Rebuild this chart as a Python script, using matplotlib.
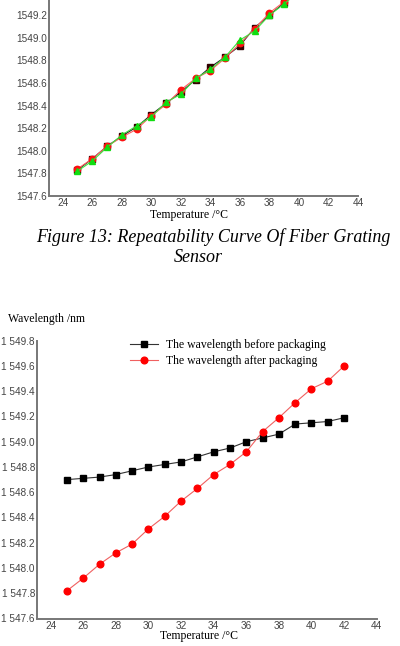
import matplotlib
matplotlib.use("Agg")
import matplotlib.pyplot as plt
from matplotlib.ticker import FuncFormatter

# data
temps = list(range(25, 43))

# top chart: three repeated runs
run_1 = [1547.83, 1547.93, 1548.04, 1548.13, 1548.21, 1548.32, 1548.42, 1548.52, 1548.63,
         1548.74, 1548.83, 1548.93, 1549.09, 1549.20, 1549.31, 1549.42, 1549.49, 1549.60]
run_2 = [1547.84, 1547.93, 1548.04, 1548.12, 1548.19, 1548.31, 1548.41, 1548.54, 1548.64,
         1548.71, 1548.82, 1548.95, 1549.08, 1549.22, 1549.32, 1549.42, 1549.49, 1549.61]
run_3 = [1547.82, 1547.91, 1548.03, 1548.14, 1548.22, 1548.30, 1548.43, 1548.50, 1548.64,
         1548.72, 1548.83, 1548.98, 1549.06, 1549.20, 1549.30, 1549.41, 1549.50, 1549.60]

# bottom chart: before / after packaging
before_pkg = [1548.70, 1548.71, 1548.72, 1548.74, 1548.77, 1548.80, 1548.82, 1548.84, 1548.88,
              1548.92, 1548.95, 1549.00, 1549.03, 1549.06, 1549.14, 1549.15, 1549.16, 1549.19]
after_pkg = [1547.82, 1547.92, 1548.03, 1548.12, 1548.19, 1548.31, 1548.41, 1548.53, 1548.63,
             1548.74, 1548.82, 1548.92, 1549.08, 1549.19, 1549.31, 1549.42, 1549.48, 1549.60]

x_ticks = [24, 26, 28, 30, 32, 34, 36, 38, 40, 42, 44]
y_ticks = [1547.6, 1547.8, 1548.0, 1548.2, 1548.4, 1548.6, 1548.8, 1549.0, 1549.2, 1549.4, 1549.6, 1549.8]
y_ticks_top = [v for v in y_ticks if v <= 1549.2]  # the rest is off the page

SERIF = "Liberation Serif"
SANS = "Liberation Sans"
AXIS_GRAY = "#777777"
TICK_GRAY = "#444444"

W, H = 400, 646
fig = plt.figure(figsize=(W / 100, H / 100), dpi=100)


def px_axes(left, right, bottom, top):
    # pixel box -> figure fraction
    return [left / W, 1 - bottom / H, (right - left) / W, (bottom - top) / H]


def style_axes(ax, xlim, yticks, fmt):
    ax.set_xlim(*xlim)
    ax.set_ylim(1547.6, 1549.8)
    ax.set_xticks(x_ticks)
    ax.set_yticks(yticks)
    ax.yaxis.set_major_formatter(FuncFormatter(fmt))
    for s in ["top", "right"]:
        ax.spines[s].set_visible(False)
    for s in ["left", "bottom"]:
        ax.spines[s].set_color(AXIS_GRAY)
        ax.spines[s].set_linewidth(1.4)
    ax.tick_params(length=0, pad=1.5, labelsize=7.2, labelcolor=TICK_GRAY)
    for lab in ax.get_xticklabels() + ax.get_yticklabels():
        lab.set_family(SANS)


# top chart (cut off at the top of the page)
ax1 = fig.add_axes(px_axes(49, 358, 196, 196 - 11 * 22.6))
ax1.plot(temps, run_1, color="#202020", lw=0.8, marker="s", ms=4.2, mfc="#300000", mec="#300000", zorder=3)
ax1.plot(temps, run_2, color="#ff6060", lw=0.8, marker="o", ms=4.6, mfc="#ff1010", mec="#ff1010", zorder=4)
ax1.plot(temps, run_3, color="#40e040", lw=0.8, marker="^", ms=4.6, mfc="#10dd10", mec="#10dd10", zorder=5)
style_axes(ax1, (23.07, 44), y_ticks_top, lambda v, p: f"{v:.1f}")

fig.text(189 / W, 1 - 215 / H, "Temperature /\u00b0C", family=SERIF, fontsize=8.5,
         ha="center", va="center")

fig.text(213 / W, 1 - 237 / H, "Figure 13: Repeatability Curve Of Fiber Grating",
         family=SERIF, style="italic", fontsize=13, ha="center", va="center")
fig.text(198 / W, 1 - 258 / H, "Sensor", family=SERIF, style="italic", fontsize=13,
         ha="center", va="center")

# bottom chart
ax2 = fig.add_axes(px_axes(37, 376.7, 618.5, 340.7))
ax2.plot(temps, before_pkg, color="#333333", lw=0.8, marker="s", ms=4.2, mfc="black", mec="black",
         label="The wavelength before packaging")
ax2.plot(temps, after_pkg, color="#f06060", lw=0.8, marker="o", ms=4.8, mfc="#ff0000", mec="#ff0000",
         label="The wavelength after packaging")
style_axes(ax2, (23.16, 44), y_ticks, lambda v, p: f"{v:.1f}"[0] + " " + f"{v:.1f}"[1:])

leg = ax2.legend(loc="upper left", bbox_to_anchor=(124 / W, 1 - 333 / H),
                 bbox_transform=fig.transFigure, frameon=False, borderpad=0,
                 fontsize=8.5, handlelength=2.4, handletextpad=0.7, labelspacing=0.35)
for t in leg.get_texts():
    t.set_family(SERIF)

fig.text(8 / W, 1 - 319 / H, "Wavelength /nm", family=SERIF, fontsize=8.5, ha="left", va="center")
fig.text(199 / W, 1 - 636 / H, "Temperature /\u00b0C", family=SERIF, fontsize=8.5,
         ha="center", va="center")

fig.savefig("out.png", dpi=100)
